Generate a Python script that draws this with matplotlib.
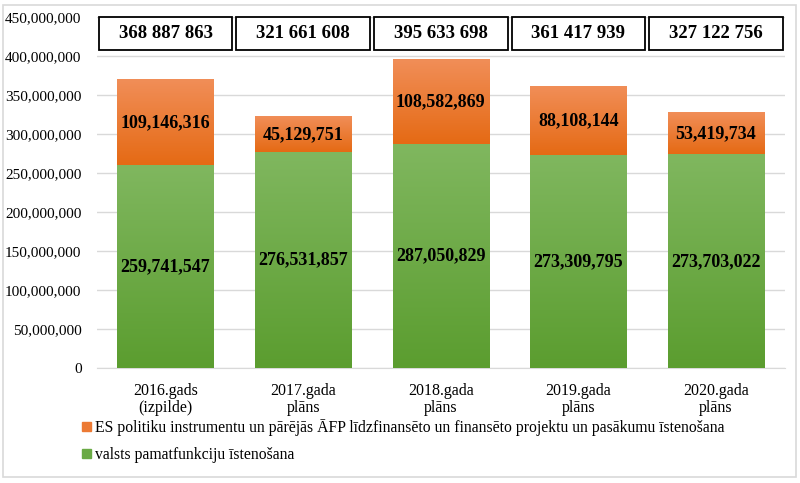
import numpy as np
import matplotlib
matplotlib.use("Agg")
import matplotlib.pyplot as plt
from matplotlib.patches import Rectangle, FancyBboxPatch
from matplotlib.ticker import FuncFormatter
from matplotlib.colors import LinearSegmentedColormap

categories = ["2016.gads\n(izpilde)", "2017.gada\nplāns", "2018.gada\nplāns", "2019.gada\nplāns", "2020.gada\nplāns"]
base_vals = [259741547, 276531857, 287050829, 273309795, 273703022]
eu_vals = [109146316, 45129751, 108582869, 88108144, 53419734]
series_names = ["ES politiku instrumentu un pārējās ĀFP līdzfinansēto un finansēto projektu un pasākumu īstenošana",
                "valsts pamatfunkciju īstenošana"]

plt.rcParams['font.family'] = ['Liberation Serif', 'DejaVu Serif']

fig = plt.figure(figsize=(8, 4.83), dpi=100)
ax = fig.add_axes([0.121, 0.238, 0.86, 0.727])

green_cmap = LinearSegmentedColormap.from_list("g", ["#5B9D2F", "#80B75F"])
orange_cmap = LinearSegmentedColormap.from_list("o", ["#E56A14", "#F18E58"])
grad = np.linspace(0, 1, 256).reshape(-1, 1)

x = np.arange(len(categories))
w = 0.70
ax.set_xlim(-0.5, len(categories) - 0.5)
ax.set_ylim(0, 450000000)

bars_g = ax.bar(x, base_vals, w, color="#6AAA45", label=series_names[1], zorder=2)
bars_o = ax.bar(x, eu_vals, w, bottom=base_vals, color="#EC7A34", label=series_names[0], zorder=2)

for bars, cmap in ((bars_g, green_cmap), (bars_o, orange_cmap)):
    for b in bars:
        bx, by = b.get_x(), b.get_y()
        bw, bh = b.get_width(), b.get_height()
        ax.imshow(grad, extent=(bx, bx + bw, by, by + bh), origin="lower",
                  cmap=cmap, aspect="auto", zorder=3)

ax.set_xlim(-0.5, len(categories) - 0.5)
ax.set_ylim(0, 450000000)

for i in range(len(categories)):
    ax.text(x[i], base_vals[i] / 2, f"{base_vals[i]:,}", ha="center", va="center",
            fontsize=13, fontweight="bold", zorder=5)
    ax.text(x[i], base_vals[i] + eu_vals[i] / 2, f"{eu_vals[i]:,}", ha="center", va="center",
            fontsize=13, fontweight="bold", zorder=5)
    total = base_vals[i] + eu_vals[i]
    ax.add_patch(Rectangle((x[i] - 0.485, 408000000), 0.97, 41500000, facecolor="white",
                           edgecolor="black", linewidth=1.3, zorder=6, clip_on=False))
    ax.text(x[i], 428500000, f"{total:,}".replace(",", " "), ha="center", va="center",
            fontsize=13.5, fontweight="bold", zorder=7)

ax.set_yticks(np.arange(0, 450000001, 50000000))
ax.yaxis.set_major_formatter(FuncFormatter(lambda v, p: f"{int(v):,}"))
ax.set_xticks(x)
ax.set_xticklabels(categories, fontsize=11.5, linespacing=1.08)
ax.tick_params(axis="y", labelsize=11, length=0, pad=11)
ax.tick_params(axis="x", length=0, pad=11)
ax.grid(axis="y", color="#D9D9D9", linewidth=1, zorder=0)
ax.set_axisbelow(True)
for s in ["top", "right", "left"]:
    ax.spines[s].set_visible(False)
ax.spines["bottom"].set_color("#D9D9D9")

handles = [bars_o, bars_g]
leg = fig.legend(handles, [series_names[0], series_names[1]], loc="center left",
                 bbox_to_anchor=(0.103, 0.087), frameon=False, fontsize=11.3,
                 handlelength=0.55, handleheight=0.55, handletextpad=0.25, labelspacing=0.7,
                 borderaxespad=0, borderpad=0)
for h, c in zip(leg.legend_handles, ["#EC7A34", "#6AAA45"]):
    h.set_color(c)

border = FancyBboxPatch((3 / 800, 6 / 483), 793 / 800, 472 / 483, boxstyle="square,pad=0",
                        transform=fig.transFigure, fill=False, edgecolor="#D9D9D9", linewidth=1.2)
fig.patches.append(border)

fig.savefig("out.png", dpi=100)
